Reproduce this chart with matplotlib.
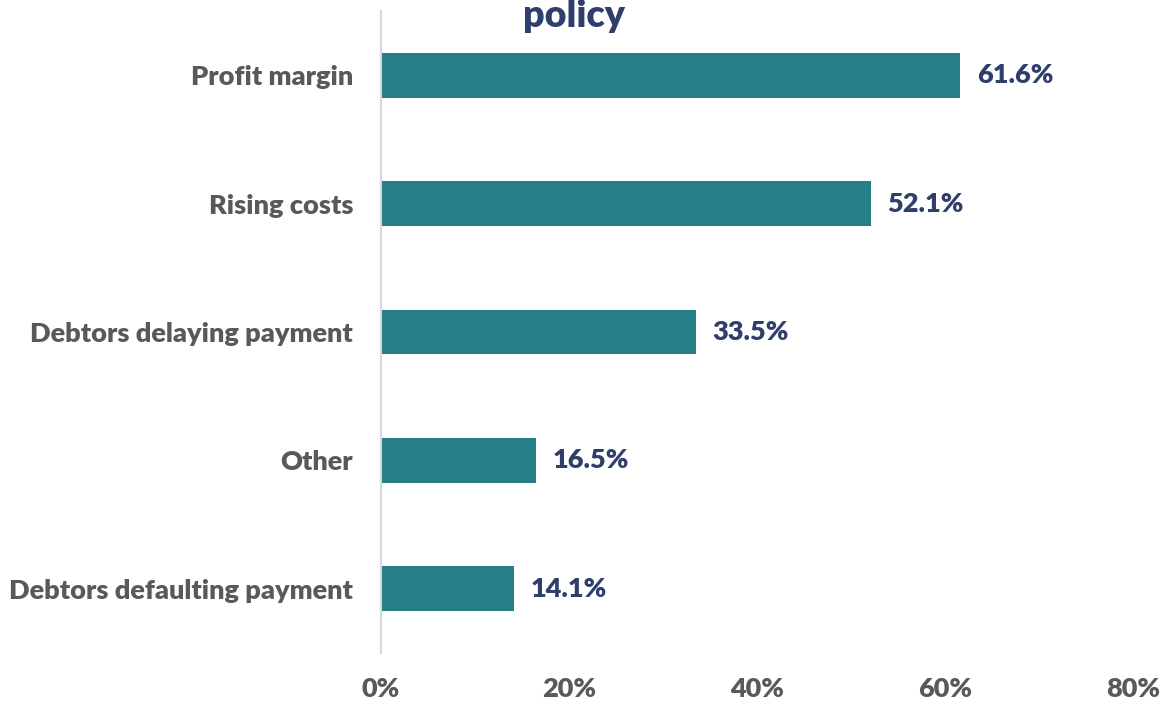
import matplotlib
matplotlib.use("Agg")
import matplotlib.pyplot as plt
from matplotlib.ticker import FuncFormatter

categories = ["Profit margin", "Rising costs", "Debtors delaying payment", "Other", "Debtors defaulting payment"]
values = [61.6, 52.1, 33.5, 16.5, 14.1]
xticks = [0, 20, 40, 60, 80]
title = "policy"

plt.rcParams['font.family'] = ['Lato', 'DejaVu Sans']

fig = plt.figure(figsize=(11.67, 7.02), dpi=100)
ax = fig.add_axes([381/1167, 1-653/702, (1133-381)/1167, (653-11)/702])

ypos = list(range(len(categories)))
ax.barh(ypos, values, height=0.35, color="#267F88")
ax.set_ylim(len(categories)-0.5, -0.5)
ax.set_xlim(0, 80)
ax.set_xticks(xticks)
ax.xaxis.set_major_formatter(FuncFormatter(lambda v, p: f"{v:.0f}%"))
ax.set_yticks(ypos)
ax.set_yticklabels(categories)

for s in ["top", "right", "bottom"]:
    ax.spines[s].set_visible(False)
ax.spines["left"].set_color("#D9D9D9")
ax.spines["left"].set_linewidth(1.5)

ax.tick_params(axis="y", length=0, pad=20, labelsize=19.5, labelcolor="#595959")
ax.tick_params(axis="x", length=0, pad=17, labelsize=19.5, labelcolor="#595959")
for lab in ax.get_yticklabels() + ax.get_xticklabels():
    lab.set_fontweight("heavy")

for y, v in zip(ypos, values):
    ax.annotate(f"{v}%", (v, y), xytext=(12, 0), textcoords="offset points",
                va="center", ha="left", fontsize=19.5, fontweight="heavy", color="#2F3E6A")

fig.text(574/1167, 1-16/702, title, ha="center", va="center", fontsize=27,
         fontweight="heavy", color="#2F3E6A")

fig.savefig("out.png", dpi=100)
